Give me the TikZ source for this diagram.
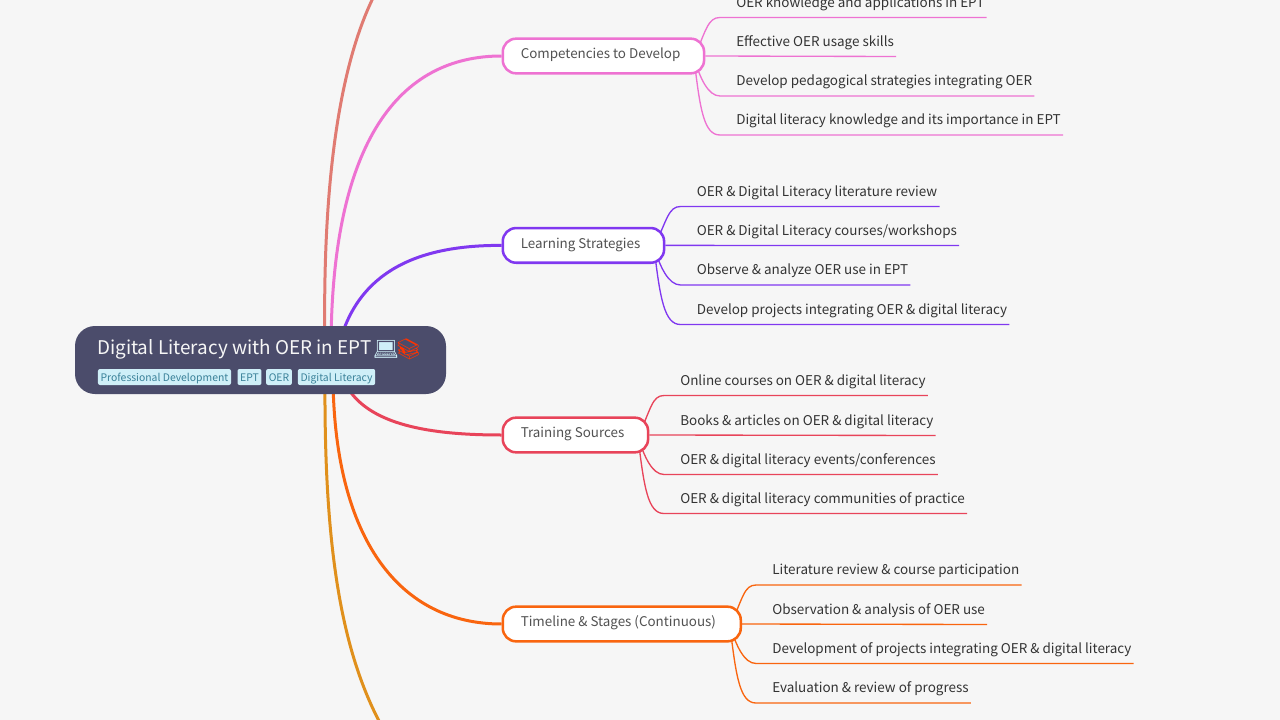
\documentclass[tikz,border=0pt]{standalone}
\usepackage{fontspec}
\setmainfont{Noto Sans CJK SC}
\newfontfamily\emojifont{Noto Emoji}
\usetikzlibrary{calc}
\pgfdeclarelayer{links}
\pgfsetlayers{links,main}
\definecolor{canvas}{HTML}{F6F6F6}
\definecolor{rootfill}{HTML}{4B4C6B}
\definecolor{tagfill}{HTML}{CFEFF8}
\definecolor{tagtext}{HTML}{3A8199}
\definecolor{salmonline}{HTML}{E07B72}
\definecolor{pinkline}{HTML}{EE72D2}
\definecolor{purpleline}{HTML}{8038F0}
\definecolor{redline}{HTML}{E8445A}
\definecolor{orangeline}{HTML}{F9650F}
\definecolor{amberline}{HTML}{E0901C}
\tikzset{
  rootbox/.style={fill=rootfill, rounded corners=15pt, minimum width=278.25pt, minimum height=51pt, inner sep=0pt},
  roottext/.style={text=canvas, font=\fontsize{14.15}{18}\selectfont, anchor=base west, inner sep=0pt},
  tagbox/.style={fill=tagfill, text=tagtext, rounded corners=1.5pt, font=\fontsize{7.8}{10}\selectfont, inner xsep=2pt, inner ysep=1.25pt, text height=8pt, text depth=1.5pt},
  topicbox/.style={draw=#1, fill=white, line width=1.9pt, rounded corners=10pt, text=black!68, font=\fontsize{10.05}{13}\selectfont, inner xsep=13.5pt, inner ysep=7.8pt, text height=7.25pt, text depth=3.15pt, anchor=west},
  leaftext/.style={anchor=south west, text=black!80, font=\fontsize{10.1}{13}\selectfont, inner xsep=1.5pt, inner ysep=4.9pt, text height=8pt, text depth=2.5pt},
  mainedge/.style={draw=#1, line width=2.25pt},
  leafedge/.style={draw=#1, line width=1pt, rounded corners=0pt},
}
% bent link from a topic to the underline of one leaf
\newcommand{\leaflink}[5]{%
  \draw[leafedge=#1] (#2) .. controls #4 and ($(#3.south west)+(-#5,0)$) .. ($(#3.south west)+(-14,0)$) -- (#3.south east);
}
\begin{document}
\begin{tikzpicture}[x=.75pt, y=-.75pt]
  \useasboundingbox (0,0) rectangle (1280,720);

  \node[rootbox] (root) at (260.5,360) {};
  \node[roottext] (roottitle) at (97,354.5) {Digital Literacy with OER in EPT};
  \node[roottext, text=tagfill, font=\emojifont\fontsize{15.5}{18}\selectfont] (laptop) at (372.5,356) {💻};
  \node[roottext, text=red!60!orange, font=\emojifont\fontsize{15.5}{18}\selectfont] (books) at (395,356) {📚};
  \node[tagbox] (tagpro) at (164.5,377) {Professional Development};
  \node[tagbox] (tagept) at (249.5,377) {EPT};
  \node[tagbox] (tagoer) at (279,377) {OER};
  \node[tagbox] (tagdig) at (336.5,377) {Digital Literacy};

  \node[topicbox=pinkline] (comp) at (501.5,56) {\makebox[124pt][l]{Competencies to Develop}};
  \node[topicbox=purpleline] (learn) at (501.5,245.4) {\makebox[94pt][l]{Learning Strategies}};
  \node[topicbox=redline] (train) at (501.5,435) {\makebox[82pt][l]{Training Sources}};
  \node[topicbox=orangeline] (time) at (501.5,624) {\makebox[151.5pt][l]{Timeline \& Stages (Continuous)}};

  \node[leaftext] (comp1) at (734,17.5) {OER knowledge and applications in EPT};
  \node[leaftext] (comp2) at (734,56.5) {Effective OER usage skills};
  \node[leaftext] (comp3) at (734,96) {Develop pedagogical strategies integrating OER};
  \node[leaftext] (comp4) at (734,135) {Digital literacy knowledge and its importance in EPT};

  \node[leaftext] (learn1) at (694.5,206.5) {OER \& Digital Literacy literature review};
  \node[leaftext] (learn2) at (694.5,245.5) {OER \& Digital Literacy courses/workshops};
  \node[leaftext] (learn3) at (694.5,285) {Observe \& analyze OER use in EPT};
  \node[leaftext] (learn4) at (694.5,324.5) {Develop projects integrating OER \& digital literacy};

  \node[leaftext] (train1) at (678,395.5) {Online courses on OER \& digital literacy};
  \node[leaftext] (train2) at (678,435.5) {Books \& articles on OER \& digital literacy};
  \node[leaftext] (train3) at (678,474.5) {OER \& digital literacy events/conferences};
  \node[leaftext] (train4) at (678,513.5) {OER \& digital literacy communities of practice};

  \node[leaftext] (time1) at (770,585) {Literature review \& course participation};
  \node[leaftext] (time2) at (770,624.5) {Observation \& analysis of OER use};
  \node[leaftext] (time3) at (770,663.5) {Development of projects integrating OER \& digital literacy};
  \node[leaftext] (time4) at (770,703) {Evaluation \& review of progress};

  \coordinate (topend) at (373,-2);
  \coordinate (bottomend) at (379.5,722);
  \coordinate (rootsalmon) at (325,350);
  \coordinate (rootpink) at (331,350);
  \coordinate (rootpurple) at (339,345);
  \coordinate (rootred) at (346,385);
  \coordinate (rootorange) at (333,380);
  \coordinate (rootamber) at (325,380);
  \coordinate (comphub) at (694,58);
  \coordinate (learnhub) at (654,247);
  \coordinate (trainhub) at (638,437);
  \coordinate (timehub) at (730,626);

  \begin{pgfonlayer}{links}
    \fill[canvas] (0,0) rectangle (1280,720);

    \draw[mainedge=salmonline] (rootsalmon) .. controls (322,190) and (338,70) .. (topend);
    \draw[mainedge=pinkline] (rootpink) .. controls (331,140) and (400,56) .. (comp.west);
    \draw[mainedge=purpleline] (rootpurple) .. controls (358,270) and (420,245) .. (learn.west);
    \draw[mainedge=redline] (rootred) .. controls (368,425) and (430,435) .. (train.west);
    \draw[mainedge=orangeline] (rootorange) .. controls (335,540) and (400,624) .. (time.west);
    \draw[mainedge=amberline] (rootamber) .. controls (324,550) and (342,650) .. (bottomend);

    \leaflink{pinkline}{comphub}{comp1}{(706,30)}{26}
    \draw[leafedge=pinkline] (comp.east) -- (comp2.south east);
    \leaflink{pinkline}{comphub}{comp3}{(700,78)}{26}
    \leaflink{pinkline}{comphub}{comp4}{(700,110)}{30}

    \leaflink{purpleline}{learnhub}{learn1}{(667,220)}{26}
    \draw[leafedge=purpleline] (learn.east) -- (learn2.south east);
    \leaflink{purpleline}{learnhub}{learn3}{(660,267)}{26}
    \leaflink{purpleline}{learnhub}{learn4}{(660,299)}{30}

    \leaflink{redline}{trainhub}{train1}{(651,409)}{26}
    \draw[leafedge=redline] (train.east) -- (train2.south east);
    \leaflink{redline}{trainhub}{train3}{(644,456)}{26}
    \leaflink{redline}{trainhub}{train4}{(644,488)}{30}

    \leaflink{orangeline}{timehub}{time1}{(743,598)}{26}
    \draw[leafedge=orangeline] (time.east) -- (time2.south east);
    \leaflink{orangeline}{timehub}{time3}{(736,645)}{26}
    \leaflink{orangeline}{timehub}{time4}{(736,677)}{30}
  \end{pgfonlayer}
\end{tikzpicture}
\end{document}
